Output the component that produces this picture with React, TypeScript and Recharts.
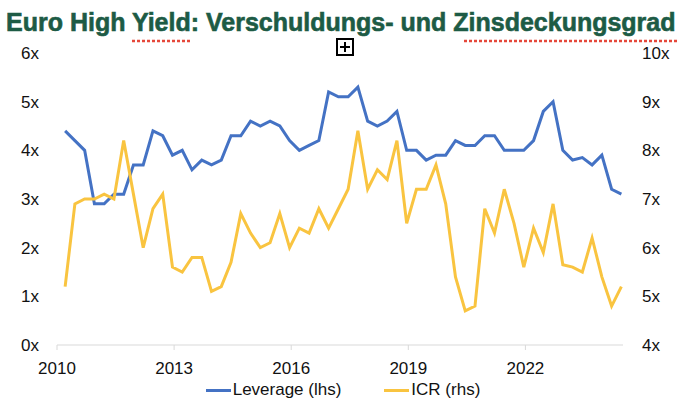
import React from 'react';
import { LineChart, Line, XAxis, YAxis, Legend } from 'recharts';

const quarters = [
  '2010-Q1', '2010-Q2', '2010-Q3', '2010-Q4',
  '2011-Q1', '2011-Q2', '2011-Q3', '2011-Q4',
  '2012-Q1', '2012-Q2', '2012-Q3', '2012-Q4',
  '2013-Q1', '2013-Q2', '2013-Q3', '2013-Q4',
  '2014-Q1', '2014-Q2', '2014-Q3', '2014-Q4',
  '2015-Q1', '2015-Q2', '2015-Q3', '2015-Q4',
  '2016-Q1', '2016-Q2', '2016-Q3', '2016-Q4',
  '2017-Q1', '2017-Q2', '2017-Q3', '2017-Q4',
  '2018-Q1', '2018-Q2', '2018-Q3', '2018-Q4',
  '2019-Q1', '2019-Q2', '2019-Q3', '2019-Q4',
  '2020-Q1', '2020-Q2', '2020-Q3', '2020-Q4',
  '2021-Q1', '2021-Q2', '2021-Q3', '2021-Q4',
  '2022-Q1', '2022-Q2', '2022-Q3', '2022-Q4',
  '2023-Q1', '2023-Q2', '2023-Q3', '2023-Q4',
  '2024-Q1', '2024-Q2',
];

const leverage = [
  4.4, 4.2, 4.0, 2.9, 2.9, 3.1, 3.1, 3.7, 3.7, 4.4,
  4.3, 3.9, 4.0, 3.6, 3.8, 3.7, 3.8, 4.3, 4.3, 4.6,
  4.5, 4.6, 4.5, 4.2, 4.0, 4.1, 4.2, 5.2, 5.1, 5.1,
  5.3, 4.6, 4.5, 4.6, 4.8, 4.0, 4.0, 3.8, 3.9, 3.9,
  4.2, 4.1, 4.1, 4.3, 4.3, 4.0, 4.0, 4.0, 4.2, 4.8,
  5.0, 4.0, 3.8, 3.85, 3.7, 3.9, 3.2, 3.1,
];

const icr = [
  5.2, 6.9, 7.0, 7.0, 7.1, 7.0, 8.2, 7.1, 6.0, 6.8,
  7.1, 5.6, 5.5, 5.8, 5.8, 5.1, 5.2, 5.7, 6.7, 6.3,
  6.0, 6.1, 6.7, 6.0, 6.4, 6.3, 6.8, 6.4, 6.8, 7.2,
  8.4, 7.2, 7.6, 7.4, 8.2, 6.5, 7.2, 7.2, 7.7, 6.9,
  5.4, 4.7, 4.8, 6.8, 6.3, 7.2, 6.5, 5.6, 6.4, 5.9,
  6.9, 5.65, 5.6, 5.5, 6.2, 5.4, 4.8, 5.2,
];

const xTicks = [2010, 2013, 2016, 2019, 2022];
const leftTicks = [0, 1, 2, 3, 4, 5, 6];
const rightTicks = [4, 5, 6, 7, 8, 9, 10];

const title = 'Euro High Yield: Verschuldungs- und Zinsdeckungsgrad';
const seriesNames = { leverage: 'Leverage (lhs)', icr: 'ICR (rhs)' };

const BLUE = '#4472C4';
const GOLD = '#F9C440';
const FONT = '"Liberation Sans", Arial, sans-serif';

const toYear = (q: string) => {
  const [y, qq] = q.split('-Q');
  return Number(y) + (Number(qq) * 3 - 0.5) / 12;
};

const data = quarters.map((q, i) => ({
  x: toYear(q),
  leverage: leverage[i],
  icr: icr[i],
}));

const renderLegend = () => (
  <div
    style={{
      display: 'flex',
      justifyContent: 'center',
      alignItems: 'center',
      height: 20,
      fontFamily: FONT,
      fontSize: 17,
      color: '#111',
      paddingLeft: 6,
    }}
  >
    <div style={{ display: 'flex', alignItems: 'center', marginRight: 43 }}>
      <span style={{ display: 'inline-block', width: 25, height: 3, background: BLUE, marginRight: 2 }} />
      <span>{seriesNames.leverage}</span>
    </div>
    <div style={{ display: 'flex', alignItems: 'center' }}>
      <span style={{ display: 'inline-block', width: 25, height: 3, background: GOLD, marginRight: 2 }} />
      <span>{seriesNames.icr}</span>
    </div>
  </div>
);

export default function App() {
  return (
    <div style={{ position: 'absolute', left: 0, top: 0, width: 680, height: 410, background: '#fff' }}>
      <LineChart
        width={680}
        height={410}
        data={data}
        margin={{ top: 53, right: 17, left: 17, bottom: 15 }}
      >
        <XAxis
          dataKey="x"
          type="number"
          domain={[2010, 2024.5]}
          ticks={xTicks}
          tickFormatter={(v: number) => String(Math.round(v))}
          axisLine={{ stroke: '#d9d9d9', strokeWidth: 1 }}
          tickLine={{ stroke: '#d9d9d9' }}
          tickSize={5}
          tickMargin={12}
          height={30}
          tick={{ fill: '#111', fontSize: 17, fontFamily: FONT }}
          allowDataOverflow
        />
        <YAxis
          yAxisId="left"
          orientation="left"
          domain={[0, 6]}
          ticks={leftTicks}
          tickFormatter={(v: number) => `${v}x`}
          axisLine={false}
          tickLine={false}
          tickSize={0}
          tickMargin={18}
          width={40}
          tick={{ fill: '#111', fontSize: 17, fontFamily: FONT }}
        />
        <YAxis
          yAxisId="right"
          orientation="right"
          domain={[4, 10]}
          ticks={rightTicks}
          tickFormatter={(v: number) => `${v}x`}
          axisLine={false}
          tickLine={false}
          tickSize={0}
          tickMargin={19}
          width={40}
          tick={{ fill: '#111', fontSize: 17, fontFamily: FONT }}
        />
        <Legend verticalAlign="bottom" content={renderLegend} wrapperStyle={{ bottom: 10 }} />
        <Line
          yAxisId="left"
          type="linear"
          dataKey="leverage"
          name={seriesNames.leverage}
          stroke={BLUE}
          strokeWidth={3}
          dot={false}
          isAnimationActive={false}
        />
        <Line
          yAxisId="right"
          type="linear"
          dataKey="icr"
          name={seriesNames.icr}
          stroke={GOLD}
          strokeWidth={3}
          dot={false}
          isAnimationActive={false}
        />
      </LineChart>
      <svg
        width={680}
        height={60}
        style={{ position: 'absolute', left: 0, top: 0, pointerEvents: 'none' }}
      >
        <text
          x={6}
          y={31}
          fontFamily='"Liberation Sans", Arial, sans-serif'
          fontWeight="bold"
          fontSize={25}
          fill="#1D5B45"
          stroke="#1D5B45"
          strokeWidth={0.6}
        >
          {title}
        </text>
        <line x1={132} y1={41} x2={190} y2={41} stroke="#E5473A" strokeWidth={2.5} strokeDasharray="3 2" />
        <line x1={464} y1={41} x2={677} y2={41} stroke="#E5473A" strokeWidth={2.5} strokeDasharray="3 2" />
        <rect x={337} y={39} width={16} height={16} fill="#fff" stroke="#000" strokeWidth={2} />
        <line x1={340} y1={47} x2={350} y2={47} stroke="#000" strokeWidth={2} />
        <line x1={345} y1={42} x2={345} y2={52} stroke="#000" strokeWidth={2} />
      </svg>
    </div>
  );
}
